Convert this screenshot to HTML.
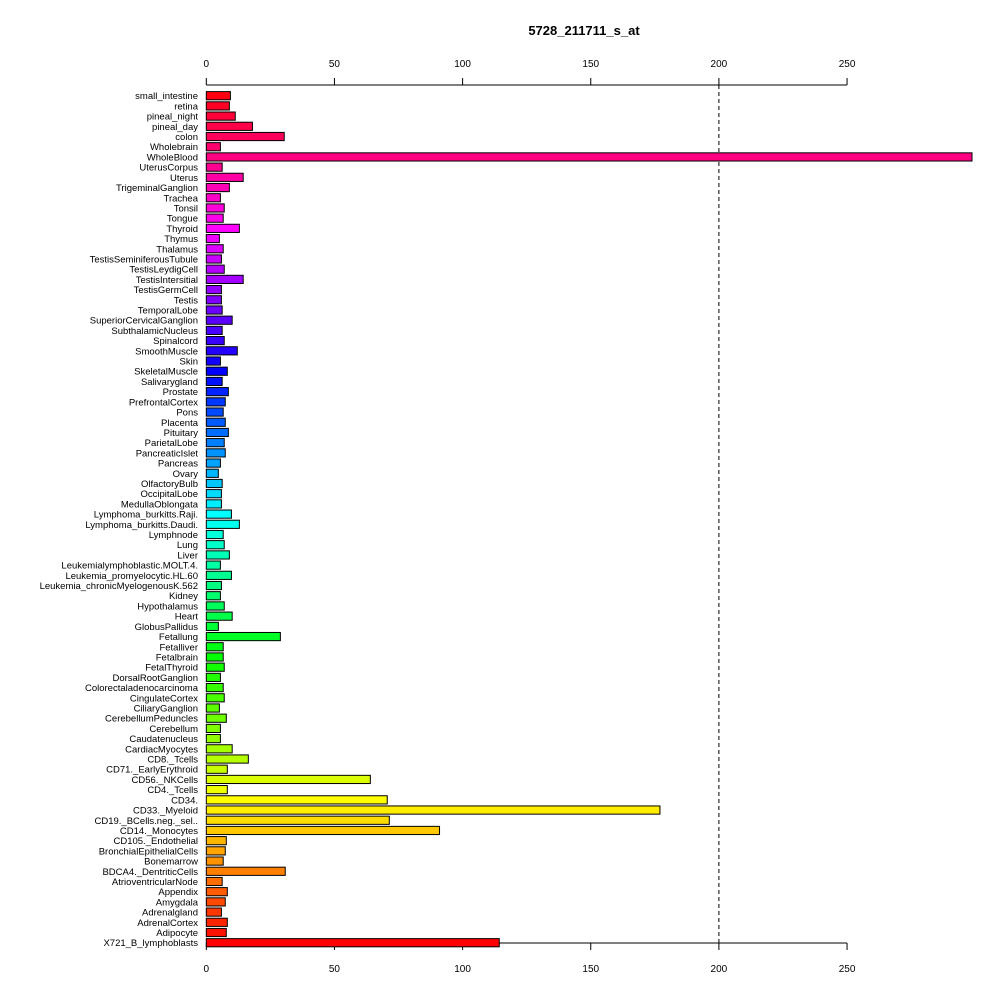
<!DOCTYPE html>
<html><head><meta charset="utf-8"><style>
html,body{margin:0;padding:0;background:#fff;}
svg text{font-family:"Liberation Sans",Arial,sans-serif;}
</style></head><body>
<svg id="chart" width="1000" height="1000" viewBox="0 0 1000 1000">
<text x="584" y="35" text-anchor="middle" font-size="13" font-weight="bold">5728_211711_s_at</text>
<g id="axes"></g>
<g id="bars"></g>
<g id="labels"></g>
</svg>
<script>
const categories = ["small_intestine","retina","pineal_night","pineal_day","colon","Wholebrain","WholeBlood","UterusCorpus","Uterus","TrigeminalGanglion","Trachea","Tonsil","Tongue","Thyroid","Thymus","Thalamus","TestisSeminiferousTubule","TestisLeydigCell","TestisIntersitial","TestisGermCell","Testis","TemporalLobe","SuperiorCervicalGanglion","SubthalamicNucleus","Spinalcord","SmoothMuscle","Skin","SkeletalMuscle","Salivarygland","Prostate","PrefrontalCortex","Pons","Placenta","Pituitary","ParietalLobe","PancreaticIslet","Pancreas","Ovary","OlfactoryBulb","OccipitalLobe","MedullaOblongata","Lymphoma_burkitts.Raji.","Lymphoma_burkitts.Daudi.","Lymphnode","Lung","Liver","Leukemialymphoblastic.MOLT.4.","Leukemia_promyelocytic.HL.60","Leukemia_chronicMyelogenousK.562","Kidney","Hypothalamus","Heart","GlobusPallidus","Fetallung","Fetalliver","Fetalbrain","FetalThyroid","DorsalRootGanglion","Colorectaladenocarcinoma","CingulateCortex","CiliaryGanglion","CerebellumPeduncles","Cerebellum","Caudatenucleus","CardiacMyocytes","CD8._Tcells","CD71._EarlyErythroid","CD56._NKCells","CD4._Tcells","CD34.","CD33._Myeloid","CD19._BCells.neg._sel..","CD14._Monocytes","CD105._Endothelial","BronchialEpithelialCells","Bonemarrow","BDCA4._DentriticCells","AtrioventricularNode","Appendix","Amygdala","Adrenalgland","AdrenalCortex","Adipocyte","X721_B_lymphoblasts"];
const values = [9.4,9,11.3,18,30.4,5.5,299,6.2,14.4,9,5.5,7,6.6,12.9,5.1,6.6,5.9,7,14.4,5.9,5.9,6.2,10.1,6.2,7,12.1,5.5,8.2,6.2,8.6,7.4,6.6,7.4,8.6,7,7.4,5.5,4.7,6.2,5.9,5.9,9.8,12.9,6.6,7,9,5.5,9.8,5.9,5.5,7,10.1,4.7,28.9,6.6,6.6,7,5.5,6.6,7,5.1,7.8,5.5,5.5,10.1,16.4,8.2,64,8.2,70.6,177,71.4,91,7.8,7.4,6.6,30.8,6.2,8.2,7.4,5.9,8.2,7.8,114.3];
const ticks = [0,50,100,150,200,250];
const cutoff = [200];

const NS="http://www.w3.org/2000/svg";
const X0=206.3, PXU=2.563, Y0=95.7, STEP=10.205, BH=8.2, XMAX=972;
const xs=v=>X0+v*PXU;
const ys=i=>Y0+i*STEP;
function mk(tag,attrs,parent){const e=document.createElementNS(NS,tag);for(const k in attrs)e.setAttribute(k,attrs[k]);parent.appendChild(e);return e;}
const axes=document.getElementById('axes'),bars=document.getElementById('bars'),labels=document.getElementById('labels');
const n=categories.length;
const topY=85, botY=943;
// axes
for(const [yl,ty,dir,name] of [[topY,67,-1,'top'],[botY,972,1,'bottom']]){
  const ln=mk('line',{x1:xs(ticks[0]),x2:xs(ticks[ticks.length-1]),y1:yl,y2:yl,stroke:'#000','stroke-width':1},axes);
  
  
  ticks.forEach(t=>{
    const tk=mk('line',{x1:xs(t),x2:xs(t),y1:yl,y2:yl+dir*7,stroke:'#000'},axes);
    
    
    const tl=mk('text',{x:xs(t),y:ty,'text-anchor':'middle','font-size':10},axes);
    tl.textContent=t;
    
    
  });
}
cutoff.forEach(c=>{
  const d=mk('line',{x1:xs(c),x2:xs(c),y1:topY,y2:botY,stroke:'#000','stroke-dasharray':'4,3'},axes);
  
  
});
categories.forEach((c,i)=>{
  const hue=((n-1-i)/n)*360;
  const w=Math.min(xs(values[i]),XMAX)-X0;
  const r=mk('rect',{x:X0,y:ys(i)-BH/2,width:Math.max(w,0),height:BH,fill:`hsl(${hue},100%,50%)`,stroke:'#000','stroke-width':1},bars);
  
  
  const t=mk('text',{x:198,y:ys(i)+3.5,'text-anchor':'end','font-size':9.5},labels);
  t.textContent=c;
  
  
});
</script>
</body></html>
